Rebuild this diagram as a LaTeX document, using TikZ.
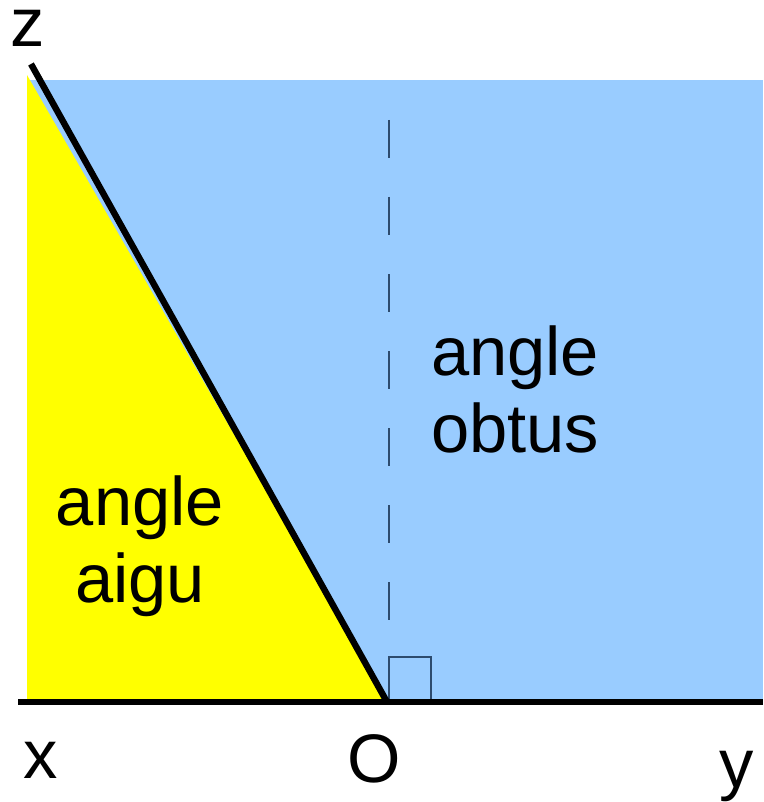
\documentclass[tikz,border=0pt]{standalone}
\usepackage{fontspec}
\setmainfont{Liberation Sans}
\definecolor{skyb}{RGB}{153,204,255}
\definecolor{yel}{RGB}{255,255,0}
\definecolor{dashc}{RGB}{45,75,110}
\begin{document}
\begin{tikzpicture}[x=0.75pt,y=-0.75pt,
  axis/.style={line width=4.8pt,black},
  helper/.style={line width=1.1pt,dashc},
  lbl/.style={anchor=base,inner sep=0pt,font=\fontsize{51.5}{58}\selectfont}]
\useasboundingbox (0,0) rectangle (763,802);
% regions
\fill[skyb] (27,80) rectangle (763,700);
\fill[yel] (27,75) -- (27,700) -- (387,700) -- cycle;
% coordinates
\coordinate (Z) at (31,64);
\coordinate (O) at (387,702);
\coordinate (X) at (18,702);
\coordinate (Y) at (763,702);
\coordinate (P) at (389,120);
\coordinate (Q) at (389,657);
% perpendicular (dashed) and right-angle mark
\draw[helper,dash pattern=on 28.5pt off 29.25pt] (P) -- (Q);
\draw[helper] (389,700) -- (389,657) -- (431,657) -- (431,700);
% axes
\draw[axis] (X) -- (Y);
\draw[axis] (Z) -- (O);
% labels
\node[lbl] (lz) at (28,47) {z};
\node[lbl] (lx) at (41,778) {x};
\node[lbl] (lo) at (374,782) {O};
\node[lbl] (ly) at (737,787) {y};
\node[lbl] (ob1) at (515,375) {angle};
\node[lbl] (ob2) at (515,452) {obtus};
\node[lbl] (ai1) at (140,525) {angle};
\node[lbl] (ai2) at (140,602) {aigu};
\end{tikzpicture}
\end{document}
